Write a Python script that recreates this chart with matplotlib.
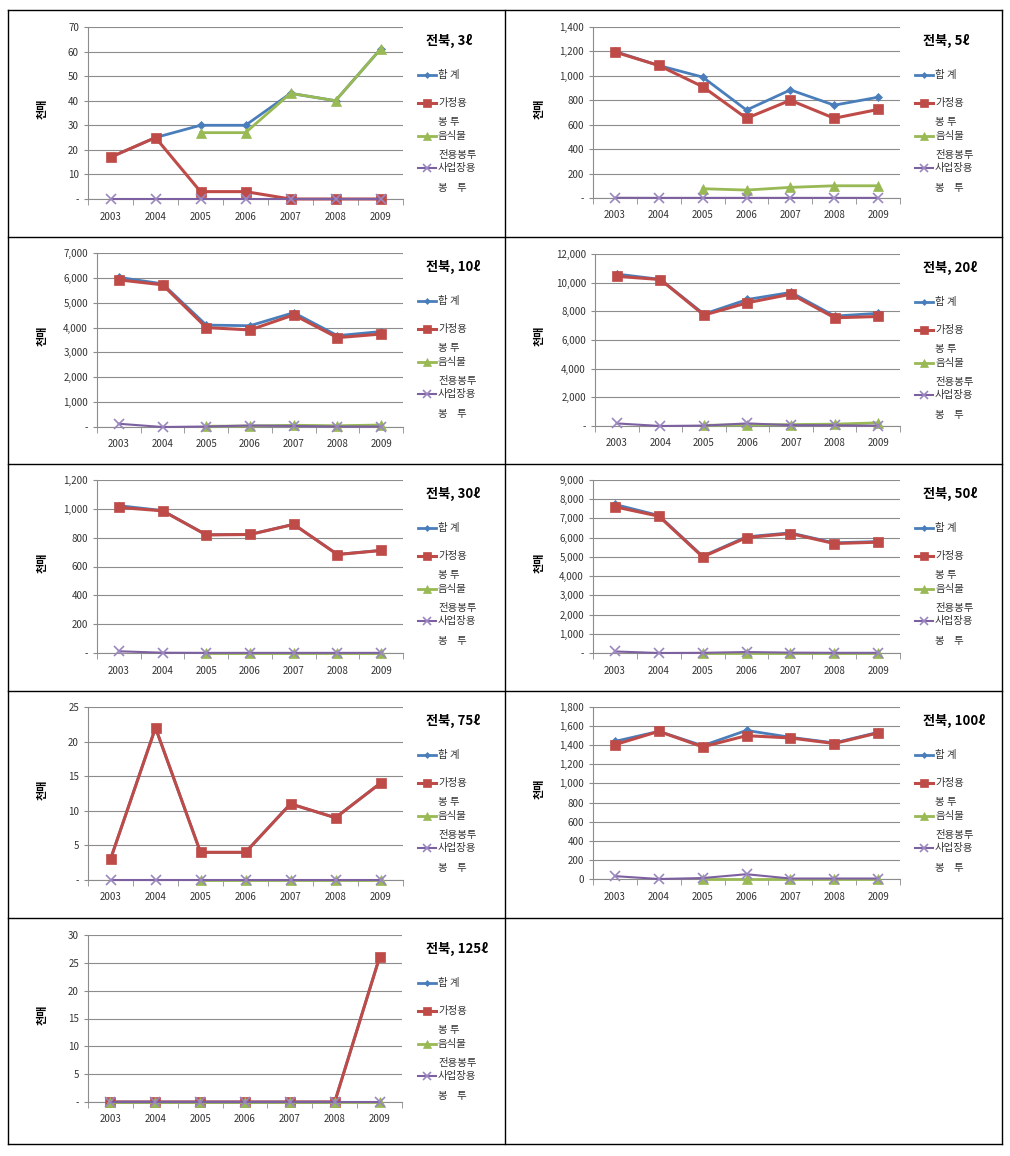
import matplotlib
matplotlib.use('Agg')
import matplotlib.pyplot as plt
import numpy as np
from matplotlib.lines import Line2D
from matplotlib.ticker import FuncFormatter, MultipleLocator

plt.rcParams['font.family'] = ['Noto Sans CJK KR', 'DejaVu Sans']

nan = np.nan
years = ['2003', '2004', '2005', '2006', '2007', '2008', '2009']
series_names = ['합 계', '가정용', '음식물', '사업장용']

# 3 liter
total_3 = [17, 25, 30, 30, 43, 40, 61]
home_3 = [17, 25, 3, 3, 0, 0, 0]
food_3 = [nan, nan, 27, 27, 43, 40, 61]
biz_3 = [0, 0, 0, 0, 0, 0, 0]
# 5 liter
total_5 = [1200, 1085, 990, 720, 885, 760, 825]
home_5 = [1195, 1085, 912, 653, 800, 653, 725]
food_5 = [nan, nan, 76, 65, 87, 100, 100]
biz_5 = [2, 1, 1, 1, 1, 1, 1]
# 10 liter
total_10 = [6020, 5760, 4100, 4075, 4600, 3675, 3840]
home_10 = [5920, 5720, 4000, 3905, 4510, 3595, 3740]
food_10 = [nan, nan, 30, 40, 70, 50, 80]
biz_10 = [130, 0, 20, 60, 40, 20, 20]
# 20 liter
total_20 = [10600, 10230, 7810, 8830, 9320, 7670, 7860]
home_20 = [10440, 10220, 7740, 8600, 9200, 7550, 7640]
food_20 = [nan, nan, 50, 80, 100, 130, 220]
biz_20 = [180, 0, 30, 180, 60, 50, 20]
# 30 liter
total_30 = [1022, 988, 820, 823, 893, 684, 712]
home_30 = [1010, 986, 819, 822, 892, 683, 711]
food_30 = [nan, nan, 2, 2, 2, 2, 2]
biz_30 = [12, 2, 1, 1, 1, 1, 1]
# 50 liter
total_50 = [7730, 7155, 5035, 6045, 6250, 5730, 5800]
home_50 = [7605, 7120, 5000, 6005, 6215, 5695, 5765]
food_50 = [nan, nan, 10, 10, 10, 10, 10]
biz_50 = [80, 0, 10, 50, 20, 10, 10]
# 75 liter
total_75 = [3, 22, 4, 4, 11, 9, 14]
home_75 = [3, 22, 4, 4, 11, 9, 14]
food_75 = [nan, nan, 0, 0, 0, 0, 0]
biz_75 = [0, 0, 0, 0, 0, 0, 0]
# 100 liter
total_100 = [1440, 1545, 1395, 1555, 1483, 1424, 1535]
home_100 = [1406, 1545, 1383, 1500, 1476, 1418, 1529]
food_100 = [nan, nan, 0, 0, 0, 0, 0]
biz_100 = [30, 0, 10, 50, 5, 5, 5]
# 125 liter
total_125 = [0, 0, 0, 0, 0, 0, 26]
home_125 = [0, 0, 0, 0, 0, 0, 26]
food_125 = [0, 0, 0, 0, 0, 0, 0]
biz_125 = [0, 0, 0, 0, 0, 0, 0]

titles = ['전북, 3ℓ', '전북, 5ℓ', '전북, 10ℓ', '전북, 20ℓ', '전북, 30ℓ',
          '전북, 50ℓ', '전북, 75ℓ', '전북, 100ℓ', '전북, 125ℓ']
ymaxes = [70, 1400, 7000, 12000, 1200, 9000, 25, 1800, 30]
ysteps = [10, 200, 1000, 2000, 200, 1000, 5, 200, 5]
data = [
    (total_3, home_3, food_3, biz_3),
    (total_5, home_5, food_5, biz_5),
    (total_10, home_10, food_10, biz_10),
    (total_20, home_20, food_20, biz_20),
    (total_30, home_30, food_30, biz_30),
    (total_50, home_50, food_50, biz_50),
    (total_75, home_75, food_75, biz_75),
    (total_100, home_100, food_100, biz_100),
    (total_125, home_125, food_125, biz_125),
]

colors = ['#4A7EBB', '#BE4B48', '#98B954', '#7D60A0']
markers = ['D', 's', '^', 'x']
msizes = [4, 7, 6.5, 6.5]
lwidths = [2.0, 2.2, 2.0, 1.5]

W, H = 1010, 1156
fig = plt.figure(figsize=(W / 100, H / 100), dpi=100)


def fx(px):
    return px / W


def fy(py):
    return 1 - py / H


def hline(x1, x2, y, **kw):
    fig.add_artist(Line2D([fx(x1), fx(x2)], [fy(y), fy(y)], transform=fig.transFigure, **kw))


def vline(x, y1, y2, **kw):
    fig.add_artist(Line2D([fx(x), fx(x)], [fy(y1), fy(y2)], transform=fig.transFigure, **kw))


# table borders
row_lines = [10, 237, 464, 691, 918, 1144]
for y in row_lines:
    hline(8, 1002, y, color='black', lw=1)
vline(8, 10, 1144, color='black', lw=1)
vline(1002, 10, 1144, color='black', lw=1)
vline(505, 10, 1144, color='black', lw=1)

# axes boxes in pixels: (cell_x0, left, right, top, bottom)
boxes = [
    (8, 88, 403, 27, 199),
    (505, 593, 900, 27, 198),
    (8, 97, 403, 253, 427),
    (505, 595, 900, 254, 426),
    (8, 97, 403, 480, 653),
    (505, 593, 900, 480, 653),
    (8, 88, 403, 707, 880),
    (505, 593, 900, 707, 879),
    (8, 88, 402, 935, 1102),
]

x = np.arange(len(years))
grid_c = '#8C8C8C'

for i, (cx, l, r, t, b) in enumerate(boxes):
    ax = fig.add_axes([fx(l), fy(b), (r - l) / W, (b - t) / H])
    for k in range(4):
        ax.plot(x, data[i][k], color=colors[k], marker=markers[k], ms=msizes[k],
                lw=lwidths[k], mew=1.2 if markers[k] == 'x' else 0.5,
                mec=colors[k] if markers[k] != 'x' else '#9B87BF', clip_on=False, zorder=3 + k)
    ax.set_xlim(-0.5, 6.5)
    ax.set_ylim(0, ymaxes[i])
    ax.yaxis.set_major_locator(MultipleLocator(ysteps[i]))
    zero = '0' if i == 7 else '-'
    ax.yaxis.set_major_formatter(FuncFormatter(lambda v, p, z=zero: z if v == 0 else f'{v:,.0f}'))
    ax.set_xticks(x)
    ax.set_xticklabels(years)
    ax.set_xticks(np.arange(-0.5, 7, 1), minor=True)
    ax.tick_params(axis='x', which='major', length=0, labelsize=7, pad=9, colors='#333333')
    ax.tick_params(axis='x', which='minor', length=4, color=grid_c, direction='out')
    ax.tick_params(axis='y', length=3, color=grid_c, labelsize=7, colors='#333333')
    ax.tick_params(axis='y', colors=grid_c, labelcolor='#333333')
    ax.grid(axis='y', color=grid_c, lw=0.8)
    ax.set_axisbelow(True)
    for s in ['top', 'right']:
        ax.spines[s].set_visible(False)
    for s in ['left', 'bottom']:
        ax.spines[s].set_color(grid_c)
        ax.spines[s].set_linewidth(0.8)

    # y label
    fig.text(fx(cx + 34), fy((t + b) / 2 - 4), '천매', rotation=90, ha='center', va='center',
             fontsize=8, fontweight='bold')
    # title
    fig.text(fx(cx + 418), fy(t + 14), titles[i], ha='left', va='center',
             fontsize=9.5, fontweight='bold')
    # legend
    rows = [(48, '합 계', 0), (76, '가정용', 1), (95, '봉 투', None), (109, '음식물', 2),
            (128, '전용봉투', None), (141, '사업장용', 3), (161, '봉    투', None)]
    for dy, label, k in rows:
        yy = t + dy
        if k is not None:
            hline(cx + 410, cx + 428, yy, color=colors[k], lw=lwidths[k])
            fig.add_artist(Line2D([fx(cx + 419)], [fy(yy)], transform=fig.transFigure,
                                  marker=markers[k], ms=msizes[k] - 1, color=colors[k],
                                  mec=colors[k] if markers[k] != 'x' else '#9B87BF',
                                  mew=1.2 if markers[k] == 'x' else 0.5))
        fig.text(fx(cx + 430), fy(yy), label, ha='left', va='center', fontsize=7.5,
                 color='#333333')

fig.savefig('out.png', dpi=100)
